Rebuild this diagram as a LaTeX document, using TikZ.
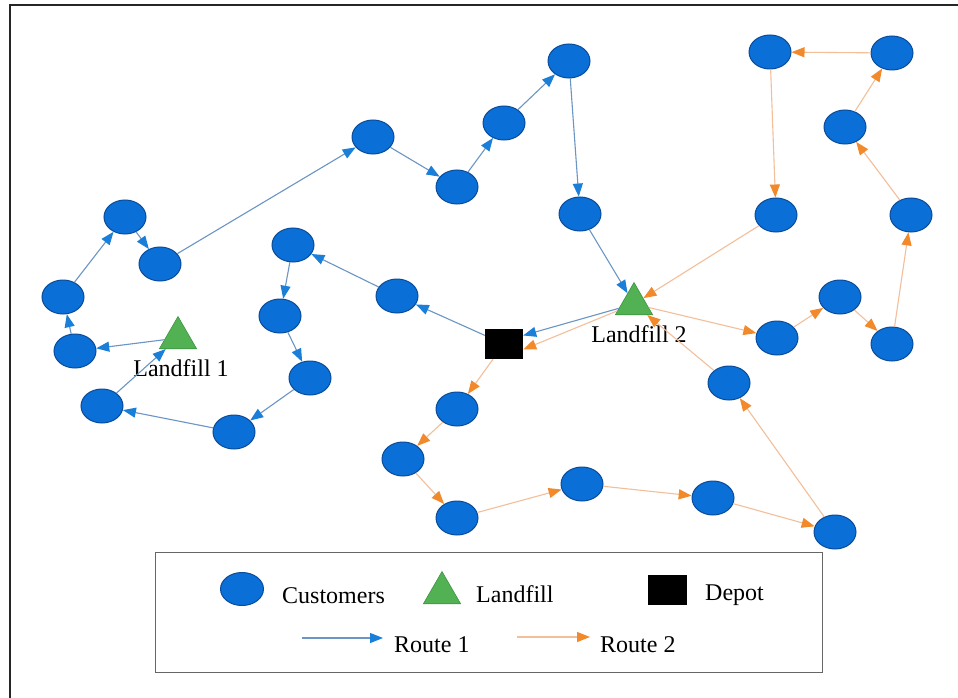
\documentclass[tikz,border=0pt]{standalone}
\usepackage{fontspec}
\setmainfont{Liberation Serif}
\usetikzlibrary{arrows.meta,shapes.geometric}
\definecolor{custfill}{HTML}{0A6FD6}
\definecolor{custedge}{HTML}{0B4C9A}
\definecolor{lfill}{HTML}{52B152}
\definecolor{ledge}{HTML}{3E9442}
\definecolor{rtone}{HTML}{1A7FD8}
\definecolor{rtoneline}{HTML}{6A95C4}
\definecolor{rttwo}{HTML}{F28A2C}
\definecolor{rttwoline}{HTML}{F3BF9A}
\begin{document}
\begin{tikzpicture}[x=1pt,y=-1pt,
  cust/.style={ellipse, draw=custedge, fill=custfill, line width=1pt,
    minimum width=42pt, minimum height=34pt, inner sep=0pt},
  landfill/.style={regular polygon, regular polygon sides=3, fill=lfill,
    draw=ledge, line width=0.6pt, minimum size=43pt, inner sep=0pt},
  depot/.style={rectangle, fill=black, minimum width=38pt,
    minimum height=30pt, inner sep=0pt},
  lbl/.style={font=\fontsize{24}{28}\selectfont, inner sep=0pt},
  rone/.style={draw=rtoneline, line width=1.1pt,
    -{Triangle[length=13pt,width=10pt,color=rtone]}},
  rtwo/.style={draw=rttwoline, line width=1.1pt,
    -{Triangle[length=13pt,width=10pt,color=rttwo]}},
]
\useasboundingbox (0,0) rectangle (958,698);
\fill[white] (0,0) rectangle (958,698);

% outer frame
\draw[line width=2.5pt, black!85] (10,698) -- (10,5) -- (958,5);

% depot and landfills
\node[depot] (D) at (504,344) {};
\node[landfill] (L1) at (178,338) {};
\node[landfill] (L2) at (634,304) {};
\node[lbl, anchor=base] (L1t) at (181,376) {Landfill 1};
\node[lbl, anchor=base] (L2t) at (639,342) {Landfill 2};

% customers on route 1
\node[cust] (A1) at (373,137) {};
\node[cust] (A2) at (457,187) {};
\node[cust] (A3) at (504,123) {};
\node[cust] (A4) at (569,61) {};
\node[cust] (A5) at (580,214) {};
\node[cust] (B1) at (397,296) {};
\node[cust] (B2) at (293,245) {};
\node[cust] (B3) at (280,316) {};
\node[cust] (B4) at (310,378) {};
\node[cust] (B5) at (234,432) {};
\node[cust] (B6) at (102,406) {};
\node[cust] (B7) at (75,351) {};
\node[cust] (B8) at (63,297) {};
\node[cust] (B9) at (125,217) {};
\node[cust] (B10) at (160,264) {};

% customers on route 2
\node[cust] (C1) at (770,52) {};
\node[cust] (C2) at (892,53) {};
\node[cust] (C3) at (845,127) {};
\node[cust] (C4) at (911,215) {};
\node[cust] (C5) at (776,215) {};
\node[cust] (C6) at (777,338) {};
\node[cust] (C7) at (840,297) {};
\node[cust] (C8) at (892,344) {};
\node[cust] (C9) at (729,383) {};
\node[cust] (C10) at (835,532) {};
\node[cust] (C11) at (713,498) {};
\node[cust] (C12) at (582,484) {};
\node[cust] (C13) at (457,518) {};
\node[cust] (C14) at (403,459) {};
\node[cust] (C15) at (457,409) {};

% route 1
\draw[rone] (D) -- (B1);
\draw[rone] (B1) -- (B2);
\draw[rone] (B2) -- (B3);
\draw[rone] (B3) -- (B4);
\draw[rone] (B4) -- (B5);
\draw[rone] (B5) -- (B6);
\draw[rone] (B6) -- (L1);
\draw[rone] (L1) -- (B7);
\draw[rone] (B7) -- (B8);
\draw[rone] (B8) -- (B9);
\draw[rone] (B9) -- (B10);
\draw[rone] (B10) -- (A1);
\draw[rone] (A1) -- (A2);
\draw[rone] (A2) -- (A3);
\draw[rone] (A3) -- (A4);
\draw[rone] (A4) -- (A5);
\draw[rone] (A5) -- (L2);
\draw[rone] (L2) -- (D.24);

% route 2
\draw[rtwo] (D) -- (C15);
\draw[rtwo] (C15) -- (C14);
\draw[rtwo] (C14) -- (C13);
\draw[rtwo] (C13) -- (C12);
\draw[rtwo] (C12) -- (C11);
\draw[rtwo] (C11) -- (C10);
\draw[rtwo] (C10) -- (C9);
\draw[rtwo] (C9) -- (L2);
\draw[rtwo] (L2) -- (C6);
\draw[rtwo] (C6) -- (C7);
\draw[rtwo] (C7) -- (C8);
\draw[rtwo] (C8) -- (C4);
\draw[rtwo] (C4) -- (C3);
\draw[rtwo] (C3) -- (C2);
\draw[rtwo] (C2) -- (C1);
\draw[rtwo] (C1) -- (C5);
\draw[rtwo] (C5) -- (L2);
\draw[rtwo] (L2) -- (D.-16);

% legend
\draw[draw=black!60, line width=1pt] (155,552) rectangle (822,672);
\node[cust, minimum width=43pt, minimum height=33pt] (kC) at (242,589) {};
\node[lbl, anchor=base west] (kCt) at (282,603) {Customers};
\node[landfill] (kL) at (442,593) {};
\node[lbl, anchor=base west] (kLt) at (476,602) {Landfill};
\node[depot, minimum width=39pt] (kD) at (667,590) {};
\node[lbl, anchor=base west] (kDt) at (705,600) {Depot};
\coordinate (k1a) at (302,638);
\coordinate (k1b) at (383,638);
\draw[rone] (k1a) -- (k1b);
\node[lbl, anchor=base west] (k1t) at (394,652) {Route 1};
\coordinate (k2a) at (517,637);
\coordinate (k2b) at (590,637);
\draw[rtwo] (k2a) -- (k2b);
\node[lbl, anchor=base west] (k2t) at (600,652) {Route 2};
\end{tikzpicture}
\end{document}
